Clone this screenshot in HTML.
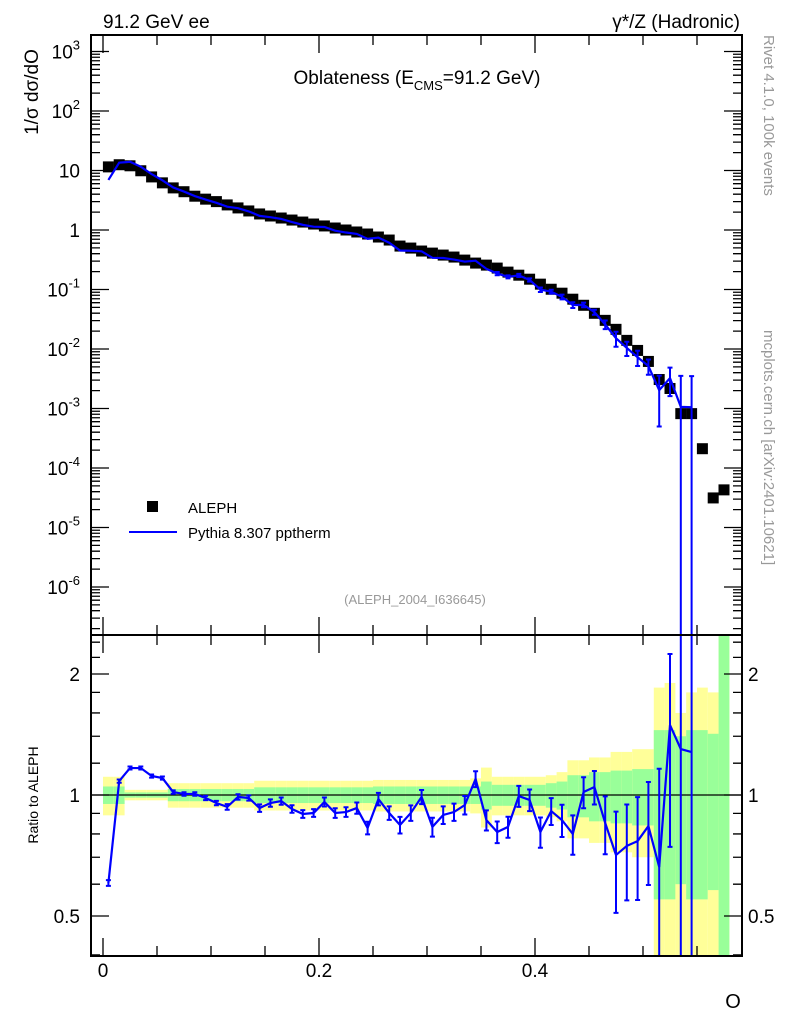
<!DOCTYPE html>
<html><head><meta charset="utf-8">
<style>
html,body{margin:0;padding:0;background:#fff;}
svg{display:block;font-family:"Liberation Sans",Arial,sans-serif;}
</style></head>
<body>
<svg id="chart" width="786" height="1024" viewBox="0 0 786 1024" xmlns="http://www.w3.org/2000/svg">
<g id="bands"></g>
<g id="marks"></g>
<g id="axes"></g>
<text x="103" y="28" font-size="19">91.2 GeV ee</text>
<text x="740" y="28" font-size="19" text-anchor="end">γ*/Z (Hadronic)</text>
<text x="417" y="84" font-size="19" text-anchor="middle">Oblateness (E<tspan font-size="13" dy="6">CMS</tspan><tspan dy="-6">=91.2 GeV)</tspan></text>
<text transform="translate(38,92) rotate(-90)" font-size="19" text-anchor="middle">1/σ  dσ/dO</text>
<text transform="translate(38,795) rotate(-90)" font-size="14" text-anchor="middle">Ratio to ALEPH</text>
<text x="733" y="1008" font-size="20" text-anchor="middle">O</text>
<text transform="translate(764,35) rotate(90)" font-size="15" fill="#999">Rivet 4.1.0,  100k events</text>
<text transform="translate(764,330) rotate(90)" font-size="15" fill="#999">mcplots.cern.ch [arXiv:2401.10621]</text>
<text x="415" y="604" font-size="13" fill="#999" text-anchor="middle">(ALEPH_2004_I636645)</text>
<g>
<rect x="147" y="501" width="11" height="11" fill="#000"/>
<text x="188" y="513" font-size="15">ALEPH</text>
<line x1="129" y1="532" x2="177" y2="532" stroke="#0000ff" stroke-width="2"/>
<text x="188" y="538" font-size="15">Pythia 8.307 pptherm</text>
</g>
</svg>
<script>
// ALEPH data values per bin (bin width 0.01 from 0 to 0.58)
const dataVals=[11.5,12.5,12.0,9.9,7.8,6.2,5.1,4.4,3.7,3.3,3.0,2.64,2.35,2.09,1.86,1.72,1.59,1.47,1.36,1.26,1.17,1.08,1.0,0.926,0.856,0.762,0.678,
0.537,0.497,0.443,0.409,0.379,0.351,0.312,0.278,0.257,0.229,0.196,0.174,0.149,0.123,0.101,0.0867,0.0687,0.0543,0.0398,0.0303,0.0214,0.01396,0.00946,0.00618,0.00307,0.00217,0.00082,0.00082,0.000211,3.14e-5,4.29e-5];
// Pythia / ALEPH ratio per bin (bins 0..54)
const ratioVals=[0.604,1.083,1.167,1.167,1.115,1.102,1.017,1.006,1.006,0.983,0.955,0.934,0.989,0.983,0.928,0.955,0.966,0.923,0.897,0.902,0.961,0.902,0.907,0.928,0.828,0.977,0.902,0.842,0.902,0.989,
0.833,0.892,0.907,0.944,1.096,0.866,0.809,0.833,0.994,0.972,0.809,0.912,0.866,0.800,1.017,1.047,0.852,0.709,0.747,0.768,0.837,0.662,1.493,1.301,1.279];
// MC error (absolute, in ratio units)
const ratioErr=[0.01,0.01,0.01,0.01,0.01,0.01,0.01,0.01,0.01,0.012,0.012,0.015,0.015,0.015,0.02,0.02,0.02,0.02,0.02,0.02,0.025,0.025,0.025,0.03,0.03,0.035,0.035,0.04,0.04,0.04,
0.045,0.045,0.045,0.05,0.05,0.05,0.05,0.05,0.06,0.06,0.07,0.07,0.08,0.09,0.09,0.1,0.14,0.2,0.2,0.22,0.24,0.5,0.75,3,3];
// Data uncertainty bands (relative half-widths): inner green, outer yellow
const greenRel=[0.05,0.05,0.015,0.015,0.015,0.015,0.035,0.035,0.035,0.035,0.035,0.035,0.035,0.035,0.045,0.045,0.045,0.045,0.045,0.045,0.045,0.045,0.045,0.045,0.045,0.05,0.05,0.05,0.05,0.05,0.05,0.05,0.05,0.05,0.05,0.08,0.06,0.06,0.06,0.06,0.06,0.07,0.08,0.12,0.12,0.14,0.14,0.15,0.15,0.16,0.16,0.45,0.45,0.4,0.45,0.45,0.42,1.5];
const yellowRel=[0.11,0.11,0.03,0.03,0.03,0.03,0.07,0.07,0.07,0.07,0.07,0.07,0.07,0.07,0.085,0.085,0.085,0.085,0.085,0.085,0.085,0.085,0.085,0.085,0.085,0.09,0.09,0.09,0.09,0.09,0.09,0.09,0.09,0.09,0.1,0.17,0.11,0.11,0.11,0.11,0.11,0.12,0.14,0.22,0.22,0.24,0.24,0.28,0.28,0.3,0.3,0.85,0.9,0.6,0.8,0.85,0.8,1.5];
const binWidth=0.01;
const xTickLabels=["0","0.2","0.4"];
const xTickVals=[0,0.2,0.4];
const yTickPow=[-6,-5,-4,-3,-2,-1,0,1,2,3];
const rTickVals=[0.5,1,2];
const rTickLabels=["0.5","1","2"];

const NS="http://www.w3.org/2000/svg";
const L=91,R=742,T=35,MID=635,B=956;
const X=v=>103+v*1080;
const Y=v=>230-59.5*Math.log10(v);
const RY=v=>795-121*Math.log2(v);
function mk(tag,attrs,parent){const e=document.createElementNS(NS,tag);for(const k in attrs)e.setAttribute(k,attrs[k]);parent.appendChild(e);return e;}
const bands=document.getElementById('bands'),marks=document.getElementById('marks'),axes=document.getElementById('axes');
const clampR=v=>Math.min(Math.max(v,0.3),3);

// bands
for(let i=0;i<dataVals.length;i++){
  const x0=X(i*binWidth),x1=X((i+1)*binWidth);
  const yl=yellowRel[i],gl=greenRel[i];
  const ytop=RY(clampR(1+yl)),ybot=RY(clampR(Math.max(1-yl,0.3)));
  const r1=mk('rect',{x:x0,y:Math.max(ytop,MID),width:x1-x0,height:Math.min(ybot,B)-Math.max(ytop,MID),fill:'#ffff99'},bands);
  
  
  const gtop=RY(clampR(1+gl)),gbot=RY(clampR(Math.max(1-gl,0.3)));
  const r2=mk('rect',{x:x0,y:Math.max(gtop,MID),width:x1-x0,height:Math.min(gbot,B)-Math.max(gtop,MID),fill:'#99ff99'},bands);
  
  
}
// ratio unity line
const ul=mk('line',{x1:L,y1:RY(1),x2:R,y2:RY(1),stroke:'#000','stroke-width':1.2},marks);



// data squares
for(let i=0;i<dataVals.length;i++){
  const cx=X((i+0.5)*binWidth),cy=Y(dataVals[i]);
  const s=mk('rect',{x:cx-5.5,y:cy-5.5,width:11,height:11,fill:'#000'},marks);
  
  
}
// MC line main + ratio
let pMain="",pRat="";
for(let i=0;i<ratioVals.length;i++){
  const cx=X((i+0.5)*binWidth);
  const mc=dataVals[i]*ratioVals[i];
  const relE=ratioErr[i]/ratioVals[i];
  pMain+=(i?"L":"M")+cx+","+Y(mc);
  pRat+=(i?"L":"M")+cx+","+RY(ratioVals[i]);
  const lo=mc*(1-relE),hi=mc*(1+relE);
  const yH=Math.max(Y(hi),T),yL=lo>0?Math.min(Y(lo),MID):MID;
  if(yL-yH>3){
    const e=mk('path',{d:`M${cx},${yH}V${yL}M${cx-2.5},${yH}H${cx+2.5}`+(yL<MID?`M${cx-2.5},${yL}H${cx+2.5}`:''),stroke:'#0000ff','stroke-width':2,fill:'none'},marks);
    
    
  }
  const rlo=ratioVals[i]-ratioErr[i],rhi=ratioVals[i]+ratioErr[i];
  const ryH=Math.max(RY(rhi),MID),ryL=rlo>0?Math.min(RY(rlo),B):B;
  const e2=mk('path',{d:`M${cx},${ryH}V${ryL}`+(ryH>MID?`M${cx-2.5},${ryH}H${cx+2.5}`:'')+(ryL<B?`M${cx-2.5},${ryL}H${cx+2.5}`:''),stroke:'#0000ff','stroke-width':2,fill:'none'},marks);
  
  
}
const lm=mk('path',{d:pMain,stroke:'#0000ff','stroke-width':2.2,fill:'none'},marks);


const lr=mk('path',{d:pRat,stroke:'#0000ff','stroke-width':2.2,fill:'none'},marks);



// frames
const f1=mk('rect',{x:L,y:T,width:R-L,height:MID-T,fill:'none',stroke:'#000','stroke-width':2},axes);


const f2=mk('rect',{x:L,y:MID,width:R-L,height:B-MID,fill:'none',stroke:'#000','stroke-width':2},axes);



let td="";
// x ticks
for(let k=0;k<=11;k++){
  const v=k*0.05,x=X(v);const big=(k%4===0);const len=big?18:10;
  td+=`M${x},${T}v${len}M${x},${MID}v${-len}M${x},${MID}v${len}M${x},${B}v${-len}`;
}
// log y ticks main
for(let p=-7;p<=3;p++){
  for(let m=1;m<10;m++){
    const v=m*Math.pow(10,p),y=Y(v);
    if(y<T||y>MID)continue;
    const len=m===1?18:9;
    td+=`M${L},${y}h${len}M${R},${y}h${-len}`;
  }
}
// ratio ticks
const rMinor=[0.4,0.5,0.6,0.7,0.8,0.9,1,1.2,1.4,1.6,1.8,2,2.2,2.4];
rMinor.forEach(v=>{const y=RY(v);const big=(v===0.5||v===1||v===2);const len=big?18:9;td+=`M${L},${y}h${len}M${R},${y}h${-len}`;});
const tk=mk('path',{d:td,stroke:'#000','stroke-width':1.3,fill:'none'},axes);



xTickVals.forEach((v,i)=>{
  const t=mk('text',{x:X(v),y:977,'font-size':19,'text-anchor':'middle'},axes);t.textContent=xTickLabels[i];
  
  
});
yTickPow.forEach(p=>{
  const y=Y(Math.pow(10,p));
  const t=mk('text',{x:80,y:y+7,'font-size':19,'text-anchor':'end'},axes);
  if(p===0)t.textContent="1";else if(p===1)t.textContent="10";
  else{t.textContent="10";const s=mk('tspan',{dy:-9,'font-size':13},t);s.textContent=String(p);}
  
  
});
rTickVals.forEach((v,i)=>{
  const y=RY(v)+7;
  const t1=mk('text',{x:80,y:y,'font-size':19,'text-anchor':'end'},axes);t1.textContent=rTickLabels[i];
  
  
  const t2=mk('text',{x:748,y:y,'font-size':19},axes);t2.textContent=rTickLabels[i];
  
  
});
</script>
</body></html>
